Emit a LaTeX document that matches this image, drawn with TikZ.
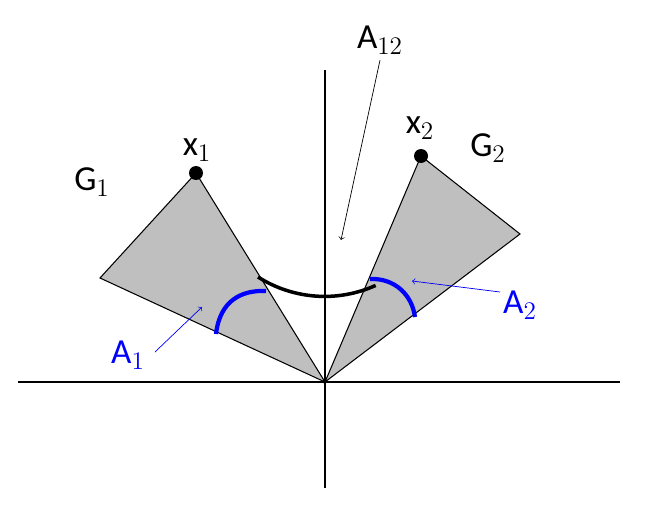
\documentclass[tikz,border=0pt]{standalone}
\usepackage{fontspec}
\setmainfont{Carlito}
\begin{document}
\begin{tikzpicture}[x=0.02cm,y=-0.02cm,thin,
  lbl/.style={font=\fontsize{20}{24}\selectfont},
  lblblue/.style={lbl,text=blue},
  cone/.style={draw,fill=black!25,line width=0.6pt}]

            % Bounding box
            \useasboundingbox (0,0) rectangle (646,510);

            % Cones
            \coordinate (O) at (325,382);
            \coordinate (x1) at (196,173);
            \coordinate (g1) at (100,278);
            \coordinate (x2) at (421,156);
            \coordinate (g2) at (520,234);
            \draw[cone] (O) -- (x1) -- (g1) -- cycle;
            \draw[cone] (O) -- (x2) -- (g2) -- cycle;

            % Axes
            \draw[line width=0.6pt] (18,382) -- (620,382);
            \draw[line width=0.6pt] (325,70) -- (325,488);

            % Points
            \fill (x1) circle (7);
            \fill (x2) circle (7);

            % Arcs
            \draw[line width=2pt] (258,277) arc[start angle=122.5,end angle=65.7,radius=124];
            \draw[blue,line width=2.4pt] (216,334) .. controls (220,300) and (242,290) .. (266,291);
            \draw[blue,line width=2.4pt] (370,279) .. controls (395,278) and (412,295) .. (415,317);

            % Labels
            \node[lbl] (lx1) at (197,150) {x$_1$};
            \node[lbl] (lx2) at (420,128) {x$_2$};
            \node[lbl] (lg1) at (92,182) {G$_1$};
            \node[lbl] (lg2) at (488,148) {G$_2$};
            \node[lbl] (la12) at (380,40) {A$_{12}$};
            \node[lblblue] (la1) at (128,355) {A$_1$};
            \node[lblblue] (la2) at (520,305) {A$_2$};

            % Pointers
            \draw[->,line width=0.4pt] (la12.south) -- (341,240);
            \draw[->,blue,line width=0.4pt] (155,352) -- (202,307);
            \draw[->,blue,line width=0.4pt] (500,292) -- (412,281);
            \end{tikzpicture}
\end{document}
